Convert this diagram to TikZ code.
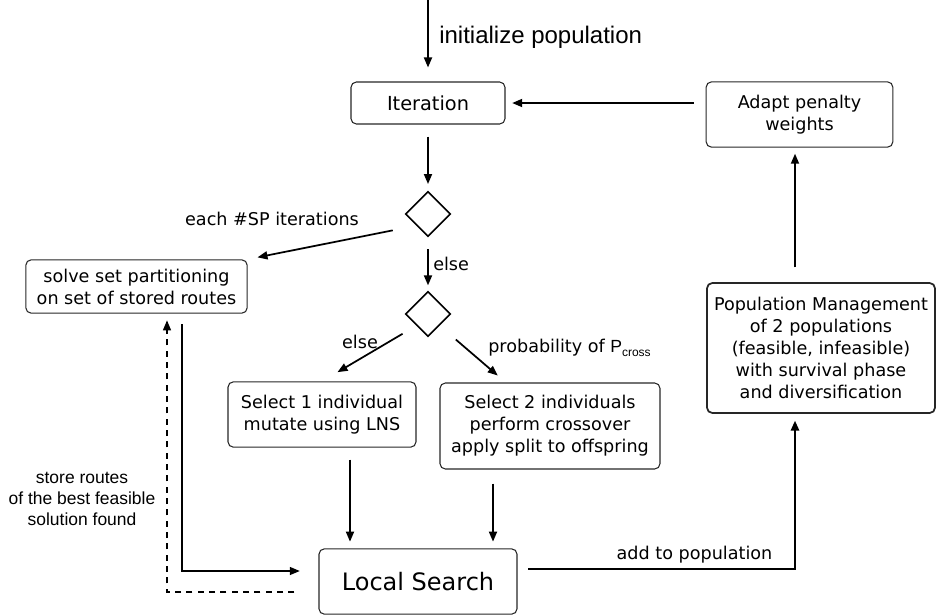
\documentclass[tikz,border=0pt]{standalone}
\usepackage{fontspec}
\setmainfont{DejaVu Sans}
\newfontfamily\arialfont{Liberation Sans}
\usetikzlibrary{shapes.geometric}
\usetikzlibrary{arrows.meta}
\usetikzlibrary{calc}

\begin{document}
\begin{tikzpicture}[x=0.75pt,y=0.75pt,yscale=-1,xscale=1,
  box/.style={draw=black!85, line width=0.8pt, rounded corners=4pt, align=center, inner sep=2pt, font=\fontsize{13.2}{16.5}\selectfont},
  decision/.style={draw, diamond, aspect=1, minimum size=33.75pt, inner sep=0pt, line width=1.2pt},
  flow/.style={line width=1.3pt, -{Triangle[length=7.5pt,width=6pt]}, shorten <=9pt, shorten >=6pt},
  lbl/.style={inner sep=0pt, font=\fontsize{13.2}{16.5}\selectfont}]
\useasboundingbox (0,0) rectangle (936,615);

%Rounded Rect: Iteration
\node[box, minimum width=115.5pt, minimum height=31.5pt, font=\fontsize{14.5}{17}\selectfont] (iter) at (428,103) {Iteration};
%Rounded Rect: Adapt penalty weights
\node[box, minimum width=140pt, minimum height=49pt] (adapt) at (799.5,114.5) {Adapt penalty\\weights};
%Shape: Diamond
\node[decision] (dia1) at (428,214) {};
%Shape: Diamond
\node[decision] (dia2) at (428,314) {};
%Rounded Rect: set partitioning
\node[box, minimum width=166pt, minimum height=40pt] (solve) at (136.5,286.5) {solve set partitioning\\on set of stored routes};
%Rounded Rect: mutation
\node[box, minimum width=141pt, minimum height=49pt] (sel1) at (322,414.5) {Select 1 individual\\mutate using LNS};
%Rounded Rect: crossover
\node[box, minimum width=165pt, minimum height=64.5pt] (sel2) at (550,426) {Select 2 individuals\\perform crossover\\apply split to offspring};
%Rounded Rect: Local Search
\node[box, minimum width=148.5pt, minimum height=49pt, font=\fontsize{18}{21}\selectfont] (ls) at (418,581.5) {Local Search};
%Rounded Rect: Population Management
\node[box, line width=1.3pt, minimum width=171pt, minimum height=97.5pt] (pop) at (821,348) {Population Management\\of 2 populations\\(feasible, infeasible)\\with survival phase\\and diversification};

\coordinate (start) at (428,0);
\coordinate (s1) at ($(sel1.south)+(28,0)$);
\coordinate (s2) at ($(sel2.south)+(-57,0)$);
\coordinate (popup) at ($(pop.north)+(-26,0)$);

%Straight Lines
\draw[flow, shorten <=0pt, shorten >=10.5pt] (start) -- (iter.north);
\draw[flow, shorten >=5pt] (adapt.west |- iter.east) -- (iter.east);
\draw[flow, shorten >=5pt] (iter.south) -- (dia1.north);
\draw[flow, shorten <=18pt, shorten >=7.5pt] (dia1.south west) -- (solve.north east);
\draw[flow, shorten >=4pt] (dia1.south) -- (dia2.north);
\draw[flow, shorten <=12pt, shorten >=13.5pt] (dia2.south west) -- (sel1.north);
\draw[flow, shorten <=16pt, shorten >=8pt] (dia2.south east) -- ($(sel2.north west)!0.3!(sel2.north east)$);
\draw[flow, shorten >=5pt] (s1) -- (s1 |- ls.north);
\draw[flow, shorten <=10.5pt, shorten >=5pt] (s2) -- (s2 |- ls.north);
\draw[flow, line width=1pt, shorten <=8pt, shorten >=14pt] ($(solve.south)+(45.5,0)$) |- ($(ls.west)+(0,-10.5)$);
\draw[flow, line width=1pt, dash pattern=on 4.5pt off 4pt, shorten <=18pt, shorten >=5pt] ($(ls.west)+(0,10.5)$) -| ($(solve.south)+(30.5,0)$);
\draw[flow, line width=2pt, shorten <=8pt, shorten >=5pt] ($(ls.east)+(0,-12.5)$) -| (popup |- pop.south);
\draw[flow, shorten <=11pt, shorten >=4.5pt] (popup) -- (popup |- adapt.south);

% Text Node
\node[anchor=west, inner sep=0pt, font=\arialfont\fontsize{18}{21}\selectfont] (init) at (439,37) {initialize population};
% Text Node
\node[lbl] (each) at (272,219) {each \#SP iterations};
% Text Node
\node[lbl, anchor=west] (elseR) at (433,264) {else};
% Text Node
\node[lbl] (elseL) at (360,341.5) {else};
% Text Node
\node[lbl, anchor=west] (prob) at (488,348) {probability of {\arialfont P}\raisebox{-3pt}{\arialfont\fontsize{9}{9}\selectfont cross}};
% Text Node
\node[lbl] (add) at (694.5,555) {add to population};
% Text Node
\node[align=center, inner sep=0pt, font=\arialfont\fontsize{13.1}{15.75}\selectfont] (store) at (82,499) {store routes\\of the best feasible\\solution found};

\end{tikzpicture}
\end{document}
